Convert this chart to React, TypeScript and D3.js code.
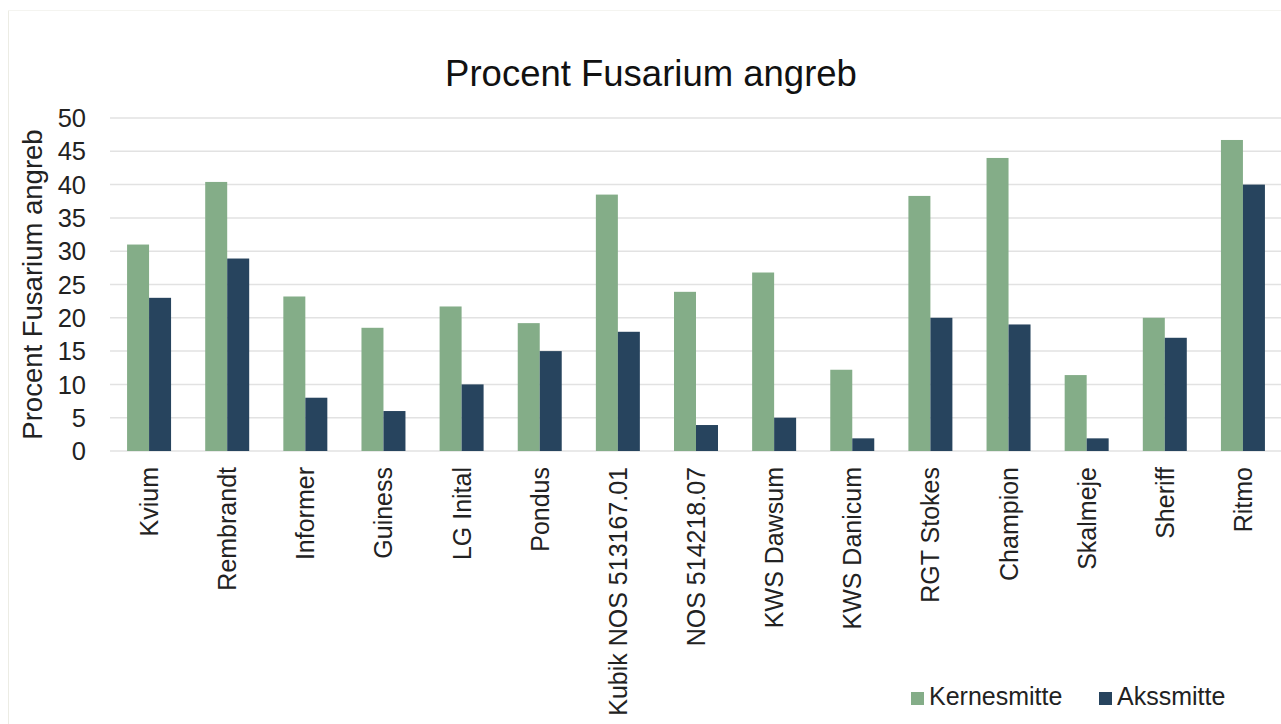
import React from "react";
import * as d3 from "d3";

const categories = [
  "Kvium",
  "Rembrandt",
  "Informer",
  "Guiness",
  "LG Inital",
  "Pondus",
  "Kubik NOS 513167.01",
  "NOS 514218.07",
  "KWS Dawsum",
  "KWS Danicum",
  "RGT Stokes",
  "Champion",
  "Skalmeje",
  "Sheriff",
  "Ritmo",
];
const kernesmitte = [31, 40.4, 23.2, 18.5, 21.7, 19.2, 38.5, 23.9, 26.8, 12.2, 38.3, 44, 11.4, 20, 46.7];
const akssmitte = [23, 28.9, 8, 6, 10, 15, 17.9, 3.9, 5, 1.9, 20, 19, 1.9, 17, 40];
const seriesNames = ["Kernesmitte", "Akssmitte"];
const seriesColors = ["#84ad88", "#27445e"];
const yTicks = [0, 5, 10, 15, 20, 25, 30, 35, 40, 45, 50];
const title = "Procent Fusarium angreb";
const yTitle = "Procent Fusarium angreb";

const W = 1281;
const H = 724;
const FONT = "Liberation Sans, Arial, sans-serif";

export default function App() {
  const left = 110;
  const right = 1282;
  const top = 118;
  const bottom = 451;

  const x = d3
    .scaleBand<string>()
    .domain(categories)
    .range([left, right])
    .paddingInner(0.437)
    .paddingOuter(0.2185);
  const xs = d3.scaleBand<string>().domain(seriesNames).range([0, x.bandwidth()]);
  const y = d3.scaleLinear().domain([0, 50]).range([bottom, top]);

  const series = [kernesmitte, akssmitte];

  return (
    <svg
      width={W}
      height={H}
      style={{ position: "absolute", left: 0, top: 0, background: "#fff" }}
      fontFamily={FONT}
    >
      <rect x={0} y={0} width={W} height={H} fill="#fff" />
      <line x1={8.5} y1={10} x2={8.5} y2={H} stroke="#ecece4" strokeWidth={1} />
      <line x1={8} y1={10.5} x2={W} y2={10.5} stroke="#f4f4f0" strokeWidth={1} />

      <text x={651} y={86} textAnchor="middle" fontSize={36.5} fill="#111">
        {title}
      </text>

      {yTicks.map((t) => (
        <g key={t}>
          <line
            x1={left}
            x2={right}
            y1={y(t)}
            y2={y(t)}
            stroke="#e2e2e2"
            strokeWidth={1.5}
          />
          <text x={86} y={y(t)} dy="0.36em" textAnchor="end" fontSize={25.5} fill="#222">
            {t}
          </text>
        </g>
      ))}

      <text
        transform={`translate(42, ${(top + bottom) / 2}) rotate(-90)`}
        textAnchor="middle"
        fontSize={27.5}
        fill="#222"
      >
        {yTitle}
      </text>

      {categories.map((c, i) => (
        <g key={c}>
          {series.map((vals, si) => (
            <rect
              key={si}
              x={(x(c) as number) + (xs(seriesNames[si]) as number)}
              y={y(vals[i])}
              width={xs.bandwidth()}
              height={y(0) - y(vals[i])}
              fill={seriesColors[si]}
            />
          ))}
          <text
            transform={`translate(${(x(c) as number) + x.bandwidth() / 2 + 9}, 467) rotate(-90)`}
            textAnchor="end"
            fontSize={25}
            fill="#222"
          >
            {c}
          </text>
        </g>
      ))}

      {seriesNames.map((s, i) => {
        const lx = [911, 1099][i];
        return (
          <g key={s}>
            <rect x={lx} y={692} width={13} height={13} fill={seriesColors[i]} />
            <text x={lx + 18} y={705} fontSize={25} fill="#222">
              {s}
            </text>
          </g>
        );
      })}
    </svg>
  );
}
